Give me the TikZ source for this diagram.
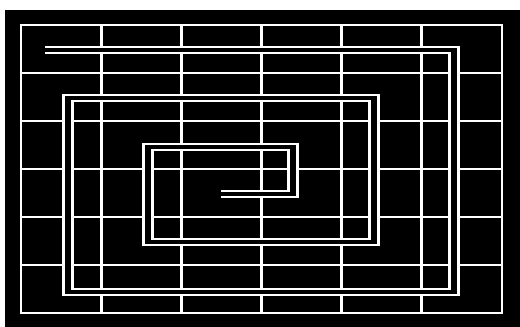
\documentclass[tikz,border=0pt]{standalone}
\usepackage{tikz}
\begin{document}
\begin{tikzpicture}[x=1pt,y=-1pt,
    gridline/.style={draw=white,line width=2pt},
    spiral/.style={draw=white,double=black,double distance=4pt,line width=2pt}
  ]
  \useasboundingbox (0,0) rectangle (520,327);
  \fill[white] (0,0) rectangle (520,327);
  \fill[black] (5,10) rectangle (520,327);
  \begin{scope}[transform canvas={xscale=1.4},x=0.714286pt]
    % grid, 6 x 6 cells
    \draw[gridline] (21,25) rectangle (502,313);
    \foreach \i in {1,...,5}{
      \draw[gridline] ({21+80.1667*\i},25) -- ({21+80.1667*\i},313);
      \draw[gridline] (21,{25+48*\i}) -- (502,{25+48*\i});
    }
    % spiral, drawn over the grid
    \draw[spiral] (45,50) -- (454,50) -- (454,292) -- (68,292) -- (68,98)
      -- (374,98) -- (374,242) -- (148,242) -- (148,147) -- (293,147)
      -- (293,194) -- (221,194);
  \end{scope}
\end{tikzpicture}
\end{document}
